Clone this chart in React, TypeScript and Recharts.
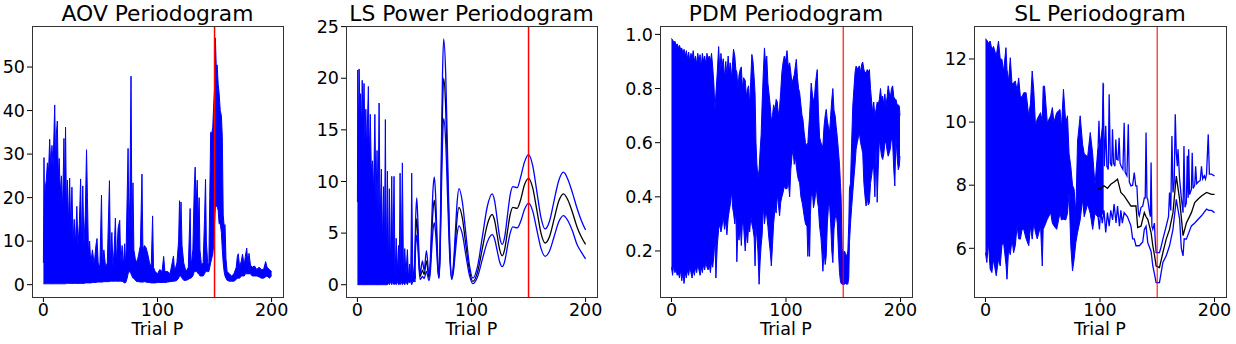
import { ComposedChart, Area, Line, XAxis, YAxis, ReferenceLine } from 'recharts'

// trial periods run 0..200, true period marked at 150
const trueP = 150
const xTicks = [0, 100, 200]

// AOV periodogram as [trial P, low, high] envelope of the dense trace
const aovBand = [
  [0, 0.2, 5], [0.5, 0.2, 29.2], [1, 0.2, 18], [1.5, 0.2, 22], [2.5, 0.2, 24], [3.5, 0.2, 28],
  [4.5, 0.2, 26], [5.5, 0.2, 33.4], [6.5, 0.2, 27], [7.5, 0.2, 32], [8.5, 0.2, 27], [9.9, 0.2, 41.3],
  [10.8, 0.2, 26], [11.3, 0.2, 34.5], [12.2, 0.2, 37.6], [13, 0.2, 24], [13.8, 0.2, 29], [14.8, 0.2, 21],
  [15.8, 0.2, 25], [16.8, 0.2, 17], [18, 0.2, 33.6], [18.7, 0.2, 20], [19.4, 0.2, 36.2], [20.2, 0.3, 17],
  [21, 0.3, 24], [22, 0.3, 14], [23, 0.3, 24.5], [24, 0.3, 12], [25, 0.3, 22.4], [26, 0.3, 10],
  [27, 0.3, 15], [28, 0.3, 9], [29.3, 0.3, 18], [30.3, 0.3, 9], [31.5, 0.3, 14], [32.6, 0.3, 24.3],
  [33.6, 0.3, 8], [34.5, 0.3, 22.7], [35.5, 0.3, 9], [36.7, 0.4, 16], [37.8, 0.4, 31], [38.6, 0.4, 20],
  [39.5, 0.4, 7], [40.5, 0.4, 10], [41.5, 0.4, 5], [43, 0.5, 8], [44.5, 0.5, 4.5], [46, 0.5, 9],
  [47, 0.6, 10.6], [48, 0.6, 5], [49.5, 0.6, 4], [50.9, 0.6, 20.6], [51.8, 0.6, 4.5], [53, 0.7, 8],
  [54.5, 0.7, 4], [56, 0.7, 5], [57.9, 0.7, 23.9], [58.8, 0.8, 5], [60, 0.8, 12], [61, 0.8, 4],
  [62, 0.8, 8], [63.1, 0.8, 15.3], [64, 0.8, 5], [65.5, 0.8, 13], [66.9, 0.8, 14.8], [67.8, 0.8, 5],
  [69, 0.8, 9], [70, 0.6, 4], [71.2, 0.4, 9.4], [72.2, 0.5, 4], [73.4, 1.5, 20], [74.2, 2.5, 31.3],
  [75, 3, 12], [75.8, 3, 20], [76.8, 2.5, 47.9], [77.6, 2, 12], [78.5, 1.5, 23.4], [79.3, 1.5, 8],
  [80.5, 1, 6], [82, 0.7, 5], [83.5, 0.7, 7], [85, 0.6, 9], [86.4, 0.6, 25.4], [87.2, 0.6, 8],
  [88.5, 0.7, 9], [90, 0.6, 8.5], [91.5, 0.5, 7], [93, 0.5, 5], [94.5, 0.4, 4], [95.7, 0.4, 15.8],
  [96.5, 0.4, 4], [98, 0.4, 3], [100, 0.5, 2.5], [102, 0.5, 3.5], [104, 0.5, 3], [105.4, 0.5, 6.5],
  [106.5, 0.5, 3], [109, 0.6, 3], [111, 0.7, 2.5], [114, 0.8, 6.6], [115, 0.8, 3], [117, 1, 5],
  [118.5, 1.5, 10], [119.3, 2, 19.3], [120, 2, 12], [120.6, 2, 19], [121.5, 1.5, 9], [123, 1, 5],
  [125, 1, 3], [127, 1.2, 4], [128.6, 1.5, 17.5], [129.4, 1.5, 4], [131, 2, 8], [132.2, 3, 22],
  [133, 3, 27], [133.8, 3, 18], [134.8, 3, 24], [135.6, 2.5, 14], [136.5, 2.5, 20], [137.2, 2, 8],
  [138.5, 2, 4.5], [140, 2, 5], [141.2, 2.5, 15], [142.1, 3, 24.2], [142.8, 3, 10], [144, 3, 5],
  [145, 3, 4.5], [145.8, 4, 20], [146.6, 5, 35], [147.5, 6, 34.8], [148.4, 7, 36], [149.2, 9, 41],
  [150, 14, 45], [150.7, 18, 56.7], [151.5, 18, 50], [152.3, 18, 50.5], [153.2, 17, 46], [154, 14, 44],
  [155, 14, 40], [156, 12, 38.8], [156.8, 8, 34], [157.6, 5, 16], [158.4, 3, 13.5], [159.2, 2, 13.8],
  [160, 1.5, 6], [161, 1, 3], [163, 0.8, 2.5], [165, 0.8, 2], [167, 0.8, 2.5], [169, 1.2, 4],
  [170, 1.5, 6.5], [170.8, 1.5, 7.1], [172, 1.5, 4], [173.5, 2, 5.5], [174.5, 2, 7], [176, 2, 4.5],
  [177, 2.5, 6.5], [178.2, 2.5, 8.4], [179.2, 2.5, 5], [180.2, 2.5, 7.2], [181.5, 2.5, 4.5], [183, 2, 4],
  [185, 2, 4.3], [187, 2, 3.5], [189, 1.8, 4], [191, 1.5, 3.5], [193, 1.5, 3.5], [194.8, 1.8, 5.3],
  [196, 2, 4], [198, 1.5, 3.5], [200, 2, 3],
]

// LS power: dense short-period part as an envelope, then three smooth curves
const lsBand = [
  [0, 0, 8], [0.3, 0, 20.8], [0.9, 0, 14], [1.5, 0, 20.9], [2.2, 0, 17], [2.8, 0, 18.5],
  [3.5, 0, 15], [4.2, 0, 19.8], [5, 0, 16], [5.8, 0, 19.5], [6.6, 0, 14], [7.4, 0, 17],
  [8.2, 0, 13], [9.6, 0, 19.2], [10.4, 0, 12], [11.3, 0, 16.5], [12.2, 0, 11], [13.2, 0, 12],
  [14.2, 0, 9], [15.3, 0, 16.5], [16.3, 0, 8], [17.2, 0, 13], [18.1, 0, 7], [19, 0, 17.6],
  [19.9, 0, 6], [21, 0, 11.2], [22, 0, 4], [23, 0, 9.5], [23.7, 0, 3], [24.5, 0, 16],
  [25.3, 0, 2], [26.3, 0, 11], [27.2, 0.2, 1.5], [28, 0, 9.3], [28.8, 0.3, 1], [30.1, 0, 10.5],
  [31, 0.3, 2], [32.1, 0, 10.5], [33, 0.2, 0.8], [34, 0, 4.5], [35, 0.3, 1.2], [36, 0, 3.8],
  [36.7, 0.2, 1], [37.4, 0, 10.8], [38.3, 0.3, 1], [39.4, 0, 11.8], [40.4, 0.2, 0.8], [41.5, 0, 3.5],
  [42.5, 0.3, 1], [43.8, 0, 3.4], [44.8, 0.3, 0.6], [45.8, 0.2, 2], [46.7, 0.3, 0.5], [47.6, 0, 10.8],
  [48.6, 0.3, 0.5], [50, 0.3, 2], [51, 0.3, 0.6],
]
const lsTrial = [
  50, 51, 52, 53, 54, 55, 57, 58.5, 60.5, 62.7,
  63.9, 65, 66.2, 67.4, 68.4, 69.5, 70.5, 71.5, 72.5, 73.5,
  74.6, 75.6, 77.4, 79.1, 80.9, 82.6, 84.2, 85.8, 87.4, 89,
  92, 95, 98.2, 101.2, 105.4, 109.6, 113.9, 118.1, 120.3, 122.5,
  124.7, 126.9, 129.2, 131.5, 133.9, 136.2, 140, 143, 146.5, 150,
  153.6, 157.3, 161, 164.5, 168.5, 172.5, 176.5, 180.6, 184.5, 188.5,
  192.5, 196, 200,
]
const lsUpper = [
  1.0, 6.2, 8.4, 6.2, 2.8, 1.1, 2.3, 1.4, 3.3, 1.0,
  2.4, 5.7, 9.1, 10.45, 9.0, 5.6, 2.2, 0.8, 4.2, 12.3,
  20.4, 23.8, 20.4, 12.2, 4.1, 0.7, 2.0, 5.0, 8.0, 9.3,
  8.0, 5.0, 1.9, 0.64, 1.83, 4.7, 7.6, 8.8, 8.1, 6.35,
  4.6, 3.9, 4.7, 6.7, 8.7, 9.5, 9.4, 10.4, 11.9, 12.6,
  11.55, 9.0, 6.45, 5.4, 6.2, 8.2, 10.1, 10.9, 10.2, 8.9,
  7.4, 6.3, 5.3,
]
const lsMid = [
  0.6, 4.7, 6.4, 4.7, 2.1, 0.8, 1.4, 1.0, 2.3, 0.7,
  1.8, 4.5, 7.1, 8.2, 7.1, 4.5, 1.8, 0.7, 3.6, 10.3,
  17.1, 20, 17.1, 10.3, 3.5, 0.6, 1.6, 4.0, 6.5, 7.5,
  6.45, 3.9, 1.4, 0.32, 1.27, 3.56, 5.85, 6.8, 6.2, 4.8,
  3.4, 2.8, 3.5, 5.15, 6.8, 7.5, 7.4, 8.2, 9.7, 10.3,
  9.4, 7.2, 4.95, 4.04, 4.7, 6.4, 8.1, 8.8, 8.2, 7.0,
  5.6, 4.7, 3.9,
]
const lsLower = [
  0.3, 3.6, 4.8, 3.6, 1.6, 0.5, 0.8, 0.6, 1.3, 0.4,
  1.2, 3.2, 5.2, 6.0, 5.2, 3.3, 1.4, 0.6, 2.9, 8.3,
  13.8, 16.1, 13.8, 8.3, 2.8, 0.5, 1.3, 3.1, 4.9, 5.7,
  4.9, 2.9, 0.9, 0.1, 0.8, 2.5, 4.15, 4.85, 4.4, 3.3,
  2.2, 1.75, 2.3, 3.7, 5.0, 5.6, 5.5, 6.1, 7.3, 7.9,
  7.15, 5.3, 3.5, 2.75, 3.3, 4.7, 6.1, 6.7, 6.2, 5.2,
  3.9, 3.2, 2.5,
]

// PDM theta as [trial P, low, high]
const pdmBand = [
  [0, 0.14, 0.985], [1, 0.11, 0.98], [2, 0.15, 0.97], [3, 0.12, 0.975], [4, 0.13, 0.96], [5, 0.11, 0.965],
  [6, 0.12, 0.95], [7, 0.1, 0.96], [8, 0.13, 0.945], [9, 0.09, 0.95], [10, 0.12, 0.93], [11, 0.08, 0.945],
  [12, 0.12, 0.92], [13, 0.1, 0.94], [14, 0.13, 0.91], [15, 0.11, 0.935], [16, 0.14, 0.9], [17, 0.12, 0.93],
  [18, 0.1, 0.91], [19, 0.13, 0.94], [20, 0.11, 0.9], [21, 0.14, 0.92], [22, 0.12, 0.89], [23, 0.15, 0.93],
  [24, 0.13, 0.9], [25, 0.11, 0.925], [26, 0.14, 0.88], [27, 0.12, 0.93], [28, 0.15, 0.9], [29, 0.13, 0.92],
  [30, 0.16, 0.89], [31, 0.14, 0.93], [32, 0.13, 0.91], [33, 0.15, 0.92], [34, 0.12, 0.9], [35, 0.16, 0.93],
  [36, 0.14, 0.88], [37, 0.18, 0.82], [38, 0.25, 0.72], [38.8, 0.1, 0.78], [40, 0.22, 0.86], [41.2, 0.28, 0.955],
  [42.3, 0.3, 0.86], [43.2, 0.27, 0.93], [44.1, 0.29, 0.88], [45.2, 0.33, 0.91], [46.3, 0.28, 0.84], [47.4, 0.31, 0.9],
  [48.4, 0.26, 0.85], [49.5, 0.32, 0.92], [50.5, 0.35, 0.86], [51.3, 0.37, 0.895], [52.5, 0.42, 0.84], [53.4, 0.36, 0.9],
  [54.2, 0.34, 0.945], [55.3, 0.3, 0.92], [56.2, 0.35, 0.87], [57.1, 0.16, 0.86], [58, 0.28, 0.8], [59, 0.24, 0.85],
  [60, 0.3, 0.87], [61, 0.22, 0.88], [62, 0.31, 0.8], [63, 0.29, 0.84], [64.4, 0.2, 0.83], [65.5, 0.27, 0.77],
  [66.5, 0.23, 0.8], [67.3, 0.29, 0.81], [68.3, 0.27, 0.74], [69.3, 0.33, 0.84], [70.2, 0.3, 0.926], [71.2, 0.28, 0.9],
  [72.2, 0.25, 0.84], [73, 0.145, 0.78], [73.8, 0.3, 0.6], [74.6, 0.25, 0.52], [75.5, 0.2, 0.47], [76.5, 0.077, 0.5],
  [77.4, 0.16, 0.57], [78.3, 0.22, 0.63], [79.2, 0.26, 0.75], [80.2, 0.37, 0.86], [81.2, 0.3, 0.95], [82.2, 0.34, 0.89],
  [83.2, 0.33, 0.92], [84.2, 0.29, 0.82], [85.2, 0.24, 0.78], [86.2, 0.2, 0.74], [87.2, 0.145, 0.68], [88.2, 0.22, 0.7],
  [89.2, 0.3, 0.74], [90.4, 0.36, 0.72], [91.4, 0.34, 0.76], [92.4, 0.41, 0.75], [93.4, 0.37, 0.7], [94.4, 0.33, 0.73],
  [95.4, 0.38, 0.79], [96.4, 0.4, 0.86], [97.4, 0.415, 0.895], [98.5, 0.44, 0.92], [99.5, 0.43, 0.9], [100.9, 0.43, 0.94],
  [102, 0.46, 0.88], [103.2, 0.4, 0.895], [104.2, 0.5, 0.86], [105.2, 0.55, 0.82], [106.1, 0.575, 0.834], [107.2, 0.52, 0.85],
  [108.1, 0.55, 0.88], [109, 0.513, 0.908], [110, 0.48, 0.84], [111, 0.46, 0.8], [111.9, 0.452, 0.785], [113, 0.4, 0.74],
  [114, 0.38, 0.7], [114.8, 0.36, 0.686], [115.8, 0.33, 0.64], [117, 0.3, 0.6], [118.3, 0.291, 0.588], [119.1, 0.18, 0.6],
  [119.8, 0.25, 0.65], [120.6, 0.18, 0.7], [121.3, 0.33, 0.76], [122, 0.4, 0.82], [123, 0.42, 0.78], [124, 0.36, 0.75],
  [124.9, 0.38, 0.772], [125.8, 0.41, 0.82], [126.6, 0.43, 0.85], [127.3, 0.39, 0.87], [128.3, 0.36, 0.72], [129.3, 0.292, 0.62],
  [130.5, 0.25, 0.6], [131.3, 0.2, 0.59], [132.2, 0.125, 0.588], [133.2, 0.2, 0.66], [134.2, 0.15, 0.7], [135.1, 0.18, 0.723],
  [136.1, 0.3, 0.68], [137, 0.36, 0.66], [138, 0.378, 0.637], [139, 0.3, 0.7], [140, 0.2, 0.76], [140.9, 0.157, 0.8],
  [141.9, 0.28, 0.72], [142.9, 0.32, 0.7], [143.8, 0.34, 0.66], [144.8, 0.3, 0.62], [145.8, 0.2, 0.57], [146.7, 0.12, 0.52],
  [147.5, 0.09, 0.45], [148.1, 0.08, 0.4], [149, 0.077, 0.21], [150, 0.077, 0.19], [151, 0.077, 0.2], [152, 0.08, 0.19],
  [153, 0.077, 0.18], [154, 0.078, 0.2], [154.8, 0.1, 0.3], [155.4, 0.23, 0.43], [156.3, 0.3, 0.45], [157.3, 0.36, 0.6],
  [158.3, 0.415, 0.735], [159.3, 0.47, 0.8], [160.3, 0.52, 0.86], [161.2, 0.575, 0.883], [162.2, 0.6, 0.87], [163.2, 0.62, 0.88],
  [164.1, 0.636, 0.883], [165.1, 0.6, 0.86], [166.1, 0.58, 0.89], [167, 0.56, 0.898], [168, 0.45, 0.87], [169, 0.4, 0.86],
  [169.9, 0.366, 0.858], [170.9, 0.4, 0.87], [171.8, 0.37, 0.86], [172.8, 0.378, 0.87], [173.8, 0.45, 0.8], [174.8, 0.48, 0.75],
  [175.7, 0.513, 0.71], [176.6, 0.5, 0.75], [177.6, 0.4, 0.7], [178.6, 0.587, 0.723], [179.6, 0.38, 0.75], [180.5, 0.5, 0.74],
  [181.5, 0.612, 0.76], [182.5, 0.58, 0.8], [183.4, 0.55, 0.76], [184.4, 0.538, 0.772], [185.4, 0.56, 0.74], [186.3, 0.6, 0.78],
  [187.3, 0.6, 0.735], [188.3, 0.57, 0.77], [189.2, 0.55, 0.81], [190.2, 0.563, 0.785], [191.2, 0.58, 0.77], [192.1, 0.62, 0.8],
  [193.1, 0.6, 0.81], [194.1, 0.5, 0.77], [195, 0.44, 0.76], [196, 0.624, 0.76], [197, 0.55, 0.74], [198, 0.5, 0.74],
  [198.9, 0.513, 0.735], [199.5, 0.55, 0.7],
]

// SL: dense part as an envelope, then upper / mean / lower traces
const slBand = [
  [0, 5.86, 12.64], [1.2, 5.55, 12.6], [2.6, 6.18, 12.5], [4.1, 5.34, 12.57], [5.6, 5.23, 12.3], [7, 5.65, 12.4],
  [9.4, 5.13, 12.1], [11.4, 5.65, 12.57], [12.9, 5.44, 12.0], [14.4, 6.1, 11.99], [15.8, 6.18, 11.6], [17.9, 5.5, 12.36],
  [18.8, 5.02, 11.67], [20.2, 5.97, 11.3], [21.7, 5.8, 12.04], [23.2, 6.29, 11.2], [24.6, 5.86, 11.25], [26.1, 6.1, 11.3],
  [27.6, 6.71, 11.0], [29, 6.3, 11.4], [30.5, 6.29, 10.8], [32, 6.6, 10.8], [33.4, 6.6, 10.93], [35.5, 6.3, 10.93],
  [37.8, 6.08, 10.2], [39.3, 6.7, 10.6], [40.8, 6.29, 11.62], [42.2, 6.8, 11.0], [43.7, 6.5, 9.88], [45.2, 6.3, 10.1],
  [48.1, 6.7, 10.3], [49.6, 5.44, 10.0], [50.4, 6.6, 11.14], [51.6, 6.7, 11.14], [54, 6.92, 9.98], [56.9, 7.13, 10.2],
  [58.4, 6.8, 10.46], [59.8, 6.71, 10.0], [62.2, 6.6, 10.3], [65.1, 7.13, 10.4], [66.3, 6.9, 9.8], [68.1, 6.92, 11.04],
  [70.1, 6.9, 9.98], [71.6, 7.1, 10.2], [73, 7.77, 9.0], [74.5, 6.08, 8.6], [76, 5.28, 8.0], [77.4, 5.65, 7.87],
  [78.9, 6.18, 7.1], [80.4, 6.5, 9.4], [82.7, 6.9, 10.2], [84.8, 7.55, 9.3], [86.2, 7.0, 9.0], [89.2, 7.4, 8.9],
  [91.5, 7.1, 9.67], [93.6, 6.6, 9.0], [95.6, 7.1, 8.0], [98, 7.0, 9.1], [100.3, 7.0, 9.35], [102.4, 7.1, 9.9],
  [103.2, 7.2, 11.2],
]
const slUpper = [
  [97.7, 8.5], [99.1, 10.04], [100.2, 8.6], [101.6, 8.5], [102.7, 11.25], [103.8, 8.6], [105, 9.88], [106, 8.6],
  [107.2, 8.5], [108, 10.88], [109, 8.7], [110.2, 8.6], [110.9, 9.77], [111.8, 8.7], [113, 8.6], [113.8, 9.45],
  [114.6, 8.82], [115.7, 8.8], [116.7, 9.5], [117.5, 8.7], [118.5, 8.6], [120, 8.5], [121.1, 9.98], [122, 8.4],
  [123.5, 8.3], [124.7, 9.93], [125.6, 8.1], [127, 7.98], [128.5, 8.0], [129.9, 8.4], [131.2, 7.98], [132.2, 7.98],
  [132.9, 7.45], [133.6, 7.1], [134.3, 7.03], [135.8, 7.3], [137.3, 7.34], [138.7, 7.6], [139.5, 7.6], [140.2, 9.67],
  [141, 7.6], [141.7, 7.55], [143, 7.2], [144, 7.0], [144.6, 8.72], [145.3, 6.7], [146.1, 6.6], [147.5, 6.8],
  [148.3, 6.2], [149, 5.86], [151.9, 5.86], [153, 6.0], [154.9, 6.29], [157.8, 6.7], [159.8, 7.0], [160.7, 7.77],
  [161.8, 7.2], [162.8, 9.56], [163.7, 7.77], [164.8, 8.1], [165.7, 10.25], [166.6, 9.03], [167.5, 8.6], [168.1, 9.14],
  [169.5, 8.2], [171, 7.6], [172.5, 7.13], [173.3, 9.24], [174.2, 7.3], [175.4, 7.45], [176.2, 8.93], [177, 7.6],
  [177.4, 9.14], [178.2, 7.7], [179.8, 7.87], [180.5, 9.03], [181.3, 7.9], [182.7, 8.0], [183.5, 8.6], [184.4, 8.05],
  [185.7, 8.1], [187.5, 8.15], [188.6, 8.6], [189.6, 8.2], [191, 8.3], [192.1, 8.19], [193, 8.35], [194.5, 9.61],
  [195.5, 8.35], [197.4, 8.35], [200, 8.29],
]
const slMid = [
  [97.7, 7.87], [100.6, 7.9], [103.5, 7.98], [106.5, 7.9], [109.4, 8.03], [112.3, 8.1], [115.3, 8.19], [118.2, 7.77],
  [121.1, 7.66], [124, 7.5], [127, 7.34], [129.9, 7.34], [131.4, 7.34], [132.9, 6.66], [135.8, 6.7], [138.7, 7.13],
  [140.2, 7.0], [141.7, 6.92], [144.6, 6.5], [146.1, 6.08], [147.5, 5.8], [149, 5.44], [151.9, 5.39], [154.9, 5.86],
  [157.8, 6.29], [160.7, 6.6], [163.7, 7.13], [166.6, 8.29], [169.5, 7.55], [172.5, 6.4], [175.4, 6.8], [179.8, 7.13],
  [182.7, 7.45], [185.7, 7.56], [188.6, 7.66], [193, 7.77], [197.4, 7.71], [200, 7.71],
]
const slLower = [
  [97.7, 7.24], [99.5, 6.6], [100.6, 7.2], [102, 6.8], [103.5, 7.2], [105, 6.5], [106.5, 7.13], [108, 6.7],
  [109.4, 7.2], [111, 6.9], [112.3, 7.4], [114, 6.8], [115.3, 7.34], [117, 6.7], [118.2, 7.2], [119.5, 6.8],
  [121.1, 7.13], [124, 7.0], [127, 6.71], [128.5, 6.3], [129.9, 6.3], [131.4, 6.08], [134.3, 6.08], [137.3, 6.2],
  [138.7, 6.6], [140.2, 6.7], [141.7, 6.18], [144.6, 5.9], [146.1, 5.44], [147.5, 5.2], [149, 4.91], [151.9, 4.91],
  [154.9, 5.55], [157.8, 5.76], [160.7, 6.08], [163.7, 6.6], [166.6, 7.55], [169.5, 6.92], [171, 6.0], [172.5, 5.76],
  [173.5, 6.3], [175.4, 6.29], [179.8, 6.71], [182.7, 6.8], [185.7, 6.92], [188.6, 7.03], [193, 7.24], [195, 7.2],
  [197.4, 7.2], [200, 7.13],
]

const BLUE = '#0000ff'
const FONT = "'DejaVu Sans', 'Liberation Sans', sans-serif"
const TICK_SIZE = 17.5

type Row = { x: number; [k: string]: number | number[] | undefined }

const bandRows = (pts: number[][]): Row[] => pts.map(([x, lo, hi]) => ({ x, band: [lo, hi] }))
const pointRows = (pts: number[][], key: string): Row[] => pts.map(([x, y]) => ({ x, [key]: y }))
const seriesRows = (xs: number[], key: string, ys: number[]): Row[] => xs.map((x, i) => ({ x, [key]: ys[i] }))
const merge = (...parts: Row[][]) => parts.flat().sort((a, b) => a.x - b.x)

interface Trace {
  key: string
  color: string
  curve: 'linear' | 'monotone'
}

interface PanelProps {
  title: string
  left: number
  width: number
  rows: Row[]
  yDomain: [number, number]
  yTicks: number[]
  yFormat?: (v: number) => string
  traces: Trace[]
  markerOpacity: number
}

const PAD_L = 60
const PAD_R = 10
const TOP = 26
const BOTTOM = 297
const H = 344

function Panel({ title, left, width, rows, yDomain, yTicks, yFormat, traces, markerOpacity }: PanelProps) {
  const tickStyle = { fill: '#000', fontSize: TICK_SIZE, fontFamily: FONT }
  return (
    <>
      <div
        style={{
          position: 'absolute', left, top: 2.5, width, textAlign: 'center',
          fontSize: 21.8, lineHeight: 1, fontFamily: FONT, whiteSpace: 'nowrap', color: '#000',
        }}
      >
        {title}
      </div>
      <div style={{ position: 'absolute', left: left - PAD_L, top: 0 }}>
        <ComposedChart
          width={PAD_L + width + PAD_R}
          height={H}
          data={rows}
          margin={{ top: TOP, right: PAD_R, bottom: 0, left: 0 }}
        >
          <XAxis
            dataKey="x"
            type="number"
            domain={[-10, 210]}
            ticks={xTicks}
            allowDataOverflow
            height={H - BOTTOM}
            tick={tickStyle}
            tickSize={5}
            tickMargin={2}
            axisLine={false}
            tickLine={{ stroke: '#000' }}
          />
          <YAxis
            type="number"
            domain={yDomain}
            ticks={yTicks}
            allowDataOverflow
            width={PAD_L}
            tick={tickStyle}
            tickFormatter={yFormat}
            tickSize={5}
            tickMargin={2}
            axisLine={false}
            tickLine={{ stroke: '#000' }}
          />
          <Area
            type="linear"
            dataKey="band"
            stroke={BLUE}
            strokeWidth={1}
            fill={BLUE}
            fillOpacity={1}
            connectNulls
            dot={false}
            activeDot={false}
            isAnimationActive={false}
          />
          {traces.map(t => (
            <Line
              key={t.key}
              type={t.curve}
              dataKey={t.key}
              stroke={t.color}
              strokeWidth={1.3}
              connectNulls
              dot={false}
              activeDot={false}
              isAnimationActive={false}
            />
          ))}
          <ReferenceLine x={trueP} stroke="#ff0000" strokeWidth={1.5} strokeOpacity={markerOpacity} />
        </ComposedChart>
      </div>
      {/* axes frame, all four spines */}
      <div
        style={{
          position: 'absolute', left: left - 0.5, top: TOP - 0.5, width: width + 1, height: BOTTOM - TOP + 1,
          border: '1px solid #333', boxSizing: 'border-box', pointerEvents: 'none',
        }}
      />
      <div
        style={{
          position: 'absolute', left, top: 320.5, width, textAlign: 'center',
          fontSize: 17.5, lineHeight: 1, fontFamily: FONT, whiteSpace: 'nowrap', color: '#000',
        }}
      >
        Trial P
      </div>
    </>
  )
}

export default function App() {
  const aovRows = merge(bandRows(aovBand))
  const lsRows = merge(
    bandRows(lsBand),
    seriesRows(lsTrial, 'mid', lsMid),
    seriesRows(lsTrial, 'upper', lsUpper),
    seriesRows(lsTrial, 'lower', lsLower),
  )
  const pdmRows = merge(bandRows(pdmBand))
  const slRows = merge(
    bandRows(slBand),
    pointRows(slMid, 'mid'),
    pointRows(slUpper, 'upper'),
    pointRows(slLower, 'lower'),
  )

  return (
    <div style={{ position: 'absolute', left: 0, top: 0, width: 1236, height: 344, background: '#fff' }}>
      <style>{`
        .recharts-cartesian-axis-tick-value,
        .recharts-cartesian-axis-tick-value tspan {
          font-family: 'DejaVu Sans', sans-serif !important;
          font-size: ${TICK_SIZE}px !important;
          fill: #000 !important;
        }
      `}</style>
      <Panel
        title="AOV Periodogram"
        left={32}
        width={251}
        rows={aovRows}
        yDomain={[-2.83, 59.43]}
        yTicks={[0, 10, 20, 30, 40, 50]}
        traces={[]}
        markerOpacity={1}
      />
      <Panel
        title="LS Power Periodogram"
        left={346}
        width={251}
        rows={lsRows}
        yDomain={[-1.19, 25.06]}
        yTicks={[0, 5, 10, 15, 20, 25]}
        traces={[
          { key: 'mid', color: '#000', curve: 'monotone' },
          { key: 'upper', color: BLUE, curve: 'monotone' },
          { key: 'lower', color: BLUE, curve: 'monotone' },
        ]}
        markerOpacity={1}
      />
      <Panel
        title="PDM Periodogram"
        left={660}
        width={252}
        rows={pdmRows}
        yDomain={[0.03, 1.031]}
        yTicks={[0.2, 0.4, 0.6, 0.8, 1.0]}
        yFormat={(v: number) => v.toFixed(1)}
        traces={[]}
        markerOpacity={0.75}
      />
      <Panel
        title="SL Periodogram"
        left={974}
        width={252}
        rows={slRows}
        yDomain={[4.456, 13.046]}
        yTicks={[6, 8, 10, 12]}
        traces={[
          { key: 'mid', color: '#000', curve: 'linear' },
          { key: 'upper', color: BLUE, curve: 'linear' },
          { key: 'lower', color: BLUE, curve: 'linear' },
        ]}
        markerOpacity={0.7}
      />
    </div>
  )
}
